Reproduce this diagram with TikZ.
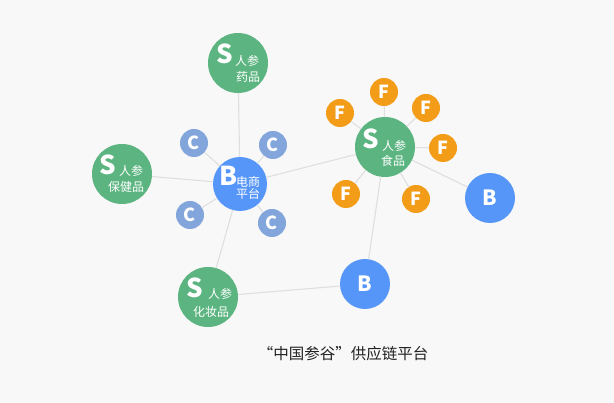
\documentclass[tikz,border=0pt]{standalone}
\usepackage{fontspec}
\setmainfont{Noto Sans CJK SC}
\definecolor{bgc}{HTML}{F8F8F8}
\definecolor{sgreen}{HTML}{5CB581}
\definecolor{bblue}{HTML}{5696F9}
\definecolor{cblue}{HTML}{82A6DB}
\definecolor{forange}{HTML}{F29C17}
\definecolor{edgegray}{HTML}{DFDFDF}
\definecolor{titlec}{HTML}{222222}
\begin{document}
\begin{tikzpicture}[x=1pt,y=-1pt,
  every node/.style={inner sep=0pt,outer sep=0pt},
  link/.style={draw=edgegray,line width=1.1pt},
  snode/.style={circle,fill=sgreen,minimum size=60pt},
  hubnode/.style={circle,fill=bblue,minimum size=54pt},
  bnode/.style={circle,fill=bblue,minimum size=50pt,text=white,font=\fontsize{21}{21}\selectfont\bfseries},
  cnode/.style={circle,fill=cblue,minimum size=28pt,text=white,font=\fontsize{18}{18}\selectfont\bfseries},
  fnode/.style={circle,fill=forange,minimum size=28pt,text=white,font=\fontsize{18}{18}\selectfont\bfseries},
  bigletter/.style={text=white,font=\fontsize{26}{26}\selectfont\bfseries},
  smalltxt/.style={text=white,font=\fontsize{12}{12}\selectfont},
]
\fill[bgc] (0,0) rectangle (614,403);
\useasboundingbox (0,0) rectangle (614,403);

% main nodes
\node[snode] (yao) at (238,63) {};
\node[snode] (bao) at (122,174) {};
\node[snode] (hua) at (208,297) {};
\node[snode] (shi) at (385,147) {};
\node[hubnode] (hub) at (240,184) {};
\node[bnode] (br) at (490,198) {B};
\node[bnode] (bb) at (365,284) {B};

\node[cnode] (c1) at (194,143) {C};
\node[cnode] (c2) at (273,145) {C};
\node[cnode] (c3) at (190,215) {C};
\node[cnode] (c4) at (272,223) {C};

\node[fnode] (f1) at (384,92) {F};
\node[fnode] (f2) at (340,113) {F};
\node[fnode] (f3) at (426,108) {F};
\node[fnode] (f4) at (443,148) {F};
\node[fnode] (f5) at (346,194) {F};
\node[fnode] (f6) at (416,199) {F};

% links
\draw[link] (yao) -- (hub);
\draw[link] (bao) -- (hub);
\draw[link] (hub) -- (hua);
\draw[link] (hub) -- (shi);
\draw[link] (hub) -- (c1);
\draw[link] (hub) -- (c2);
\draw[link] (hub) -- (c3);
\draw[link] (hub) -- (c4);
\draw[link] (hua) -- (bb);
\draw[link] (shi) -- (bb);
\draw[link] (shi) -- (br);
\draw[link] (shi) -- (f1);
\draw[link] (shi) -- (f2);
\draw[link] (shi) -- (f3);
\draw[link] (shi) -- (f4);
\draw[link] (shi) -- (f5);
\draw[link] (shi) -- (f6);

% labels inside S circles
\node[bigletter] (yaoS) at ([shift={(-13,-9)}]yao.center) {S};
\node[smalltxt] (yaoA) at ([shift={(9,-2)}]yao.center) {人参};
\node[smalltxt] (yaoB) at ([shift={(10,14)}]yao.center) {药品};

\node[bigletter] (baoS) at ([shift={(-14,-9)}]bao.center) {S};
\node[smalltxt] (baoA) at ([shift={(9,-3)}]bao.center) {人参};
\node[smalltxt] (baoB) at ([shift={(4,13)}]bao.center) {保健品};

\node[bigletter] (huaS) at ([shift={(-13,-9)}]hua.center) {S};
\node[smalltxt] (huaA) at ([shift={(12,-3)}]hua.center) {人参};
\node[smalltxt] (huaB) at ([shift={(3,15)}]hua.center) {化妆品};

\node[bigletter] (shiS) at ([shift={(-14,-8)}]shi.center) {S};
\node[smalltxt] (shiA) at ([shift={(9,-1)}]shi.center) {人参};
\node[smalltxt] (shiB) at ([shift={(8,14)}]shi.center) {食品};

\node[bigletter] (hubB) at ([shift={(-11,-8)}]hub.center) {B};
\node[smalltxt] (hubA) at ([shift={(8,-2)}]hub.center) {电商};
\node[smalltxt] (hubC) at ([shift={(8,10)}]hub.center) {平台};

% title
\node[text=titlec,font=\fontsize{15.5}{15.5}\selectfont] (title) at (343,354) {“中国参谷”供应链平台};
\end{tikzpicture}
\end{document}
